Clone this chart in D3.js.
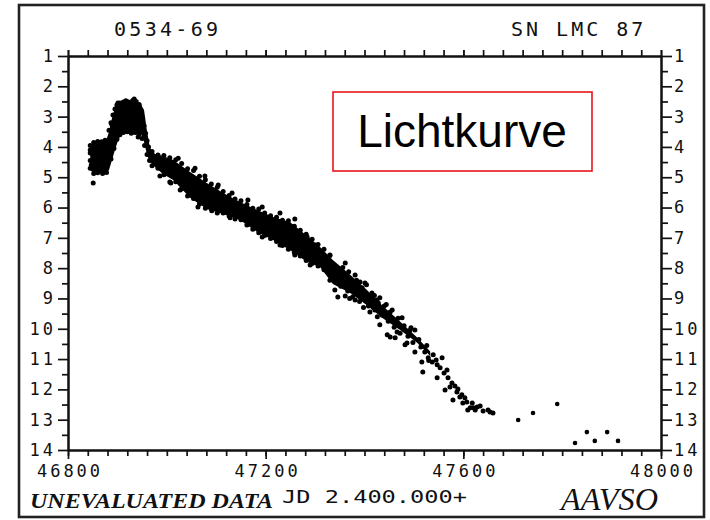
<!DOCTYPE html>
<html>
<head>
<meta charset="utf-8">
<script src="https://cdn.jsdelivr.net/npm/d3@7/dist/d3.min.js"></script>
<style>
  html, body { margin: 0; padding: 0; background: #fff; }
  svg { display: block; }
</style>
</head>
<body>
<svg id="chart" width="710" height="520"></svg>
<script>
// SN 1987A (SN LMC 87) visual light curve, AAVSO.
// Dates are JD − 2,400,000; brightness in visual magnitudes.

// Core of the dense run of estimates: brightest and faintest mag per date.
const bandJD     = [46845, 46849, 46865, 46877, 46883, 46889, 46895, 46901, 46907, 46917, 46928, 46934,
                    46942, 46948, 46954, 46960, 46966, 46976, 46992, 47013, 47047, 47081, 47114, 47148,
                    47183, 47215, 47249, 47284, 47310, 47336, 47371, 47405, 47437, 47472, 47506, 47533];
const bandBright = [4.00, 3.87, 3.84, 3.80, 3.51, 3.05, 2.72, 2.58, 2.55, 2.55, 2.52, 2.48,
                    2.55, 2.60, 2.80, 3.50, 4.05, 4.23, 4.30, 4.43, 4.83, 5.19, 5.52, 5.82,
                    6.08, 6.31, 6.48, 6.94, 7.30, 7.73, 8.22, 8.72, 9.25, 9.76, 10.28, 10.75];
const bandFaint  = [4.76, 4.83, 4.86, 4.86, 4.76, 4.43, 4.10, 3.80, 3.61, 3.54, 3.54, 3.54,
                    3.54, 3.57, 3.84, 4.27, 4.50, 4.66, 4.89, 5.09, 5.68, 6.05, 6.21, 6.41,
                    6.81, 7.07, 7.40, 7.80, 7.96, 8.52, 8.82, 9.22, 9.65, 10.04, 10.45, 10.90];

// Individual estimates [JD, mag]
const earlyObs = [[46851, 5.19], [46845, 4.10], [46847, 4.60], [46889, 3.28], [46901, 2.55],
                  [46917, 2.48], [46934, 2.42], [46942, 3.67], [47008, 5.19],
                  [46845, 3.95], [46845, 4.20], [46845, 4.45], [46845, 4.70],
                  [46852, 3.85], [46860, 3.82], [46868, 3.83], [46875, 3.78],
                  [46852, 4.88], [46860, 4.85], [46870, 4.88], [46878, 4.84],
                  [46883, 3.45], [46887, 3.20], [46891, 2.95], [46895, 2.75], [46899, 2.62],
                  [46905, 2.55], [46912, 2.52], [46920, 2.50], [46926, 2.53], [46931, 2.47],
                  [46938, 2.50], [46944, 2.60],
                  [46948, 2.80], [46951, 3.05], [46954, 3.30], [46957, 3.55], [46960, 3.80], [46963, 4.00],
                  [46887, 4.40], [46893, 4.05], [46899, 3.75], [46905, 3.60], [46912, 3.52],
                  [46920, 3.50], [46928, 3.55], [46936, 3.52], [46944, 3.58], [46950, 3.72],
                  [46955, 3.95], [46960, 4.25], [46965, 4.45]];
const declineObs = [[46982, 4.27], [47023, 4.37], [47057, 4.70], [47077, 4.96], [47104, 5.26],
                    [47132, 5.52], [47164, 5.75], [47193, 5.98], [47229, 6.18], [47259, 6.38],
                    [46986, 4.96], [47006, 5.16], [47027, 5.42], [47063, 5.98], [47091, 6.11],
                    [47128, 6.34], [47164, 6.54], [47193, 6.97], [47229, 7.24], [47259, 7.57],
                    [47290, 7.90],
                    [46970, 4.15], [46994, 4.28], [47006, 4.36], [47018, 4.42], [47030, 4.55],
                    [47042, 4.72], [47054, 4.78], [47066, 4.97], [47078, 5.08], [47090, 5.22],
                    [47102, 5.33], [47114, 5.47], [47126, 5.60], [47138, 5.72], [47150, 5.78],
                    [47162, 5.90], [47174, 6.02], [47186, 6.05], [47198, 6.18], [47210, 6.27],
                    [47222, 6.32], [47234, 6.42], [47246, 6.44], [47258, 6.62], [47270, 6.75],
                    [47282, 6.88], [47294, 7.05], [47306, 7.22], [47318, 7.38], [47330, 7.58],
                    [46970, 4.62], [46982, 4.70], [46994, 4.92], [47018, 5.15], [47030, 5.38],
                    [47042, 5.62], [47054, 5.70], [47066, 5.88], [47078, 6.02], [47090, 6.05],
                    [47102, 6.18], [47114, 6.18], [47126, 6.28], [47138, 6.38], [47150, 6.40],
                    [47162, 6.58], [47174, 6.72], [47186, 6.83], [47198, 6.92], [47210, 7.02],
                    [47222, 7.12], [47234, 7.25], [47246, 7.38], [47258, 7.48], [47270, 7.60],
                    [47282, 7.75], [47294, 7.85], [47306, 7.93], [47318, 8.05], [47330, 8.40]];
const tailObs = [[47284, 6.97], [47300, 7.24], [47324, 7.73], [47344, 7.96], [47346, 8.39],
                 [47391, 8.46], [47395, 8.65], [47405, 9.05], [47425, 9.05], [47421, 9.38],
                 [47446, 9.61], [47446, 10.20], [47452, 10.27], [47466, 10.11], [47486, 10.47],
                 [47494, 9.97], [47518, 11.43], [47539, 10.86], [47557, 10.96], [47547, 11.19],
                 [47547, 11.62], [47567, 11.36], [47563, 12.02], [47573, 11.92], [47587, 12.09],
                 [47579, 12.35], [47593, 12.25], [47599, 12.45], [47609, 12.68], [47614, 12.61],
                 [47620, 12.61], [47628, 12.58], [47650, 12.68], [47654, 12.75], [47660, 12.78],
                 [47522, 10.77], [47529, 10.96], [47537, 11.10], [47545, 11.03], [47553, 11.29],
                 [47561, 11.46], [47569, 11.62], [47577, 11.79], [47583, 11.89], [47589, 11.99],
                 [47597, 12.18], [47603, 12.28], [47607, 12.42], [47618, 12.45], [47624, 12.68],
                 [47634, 12.55], [47640, 12.71],
                 [47330, 7.57], [47361, 7.83], [47381, 8.23], [47401, 8.49], [47415, 8.82],
                 [47431, 8.98], [47456, 9.38], [47476, 9.64], [47502, 10.04],
                 [47340, 8.72], [47361, 8.92], [47381, 9.05], [47411, 9.45], [47431, 9.87],
                 [47462, 10.30], [47482, 10.53], [47502, 10.77], [47516, 11.10],
                 [47340, 8.10], [47350, 8.05], [47352, 8.60], [47358, 8.35], [47366, 8.75],
                 [47372, 8.55], [47376, 8.95], [47386, 8.70], [47390, 9.10], [47398, 8.85],
                 [47408, 9.25], [47412, 8.95], [47418, 9.30], [47428, 9.15], [47436, 9.55],
                 [47440, 9.25], [47448, 9.75], [47452, 9.45], [47460, 9.95], [47468, 9.65],
                 [47472, 10.15], [47480, 9.90], [47488, 10.25], [47492, 10.05], [47498, 10.45],
                 [47510, 10.35], [47514, 10.60], [47526, 10.55], [47530, 11.05],
                 [47346, 8.95], [47356, 7.98], [47368, 8.12], [47370, 9.00], [47384, 8.40],
                 [47398, 9.30], [47404, 8.55], [47420, 8.90], [47426, 9.60], [47444, 9.20]];
const lateObs = [[47711, 13.01], [47741, 12.78], [47790, 12.48], [47826, 13.77], [47850, 13.41],
                 [47866, 13.70], [47891, 13.41], [47913, 13.70]];

// Axis ticks
const xMajor = [46800, 47200, 47600, 48000];
const xMinor = d3.range(46800, 48001, 40);
const yMajor = [1, 2, 3, 4, 5, 6, 7, 8, 9, 10, 11, 12, 13, 14];
const yMinor = d3.range(1.5, 14, 1);

// Texts
const starDesignation = "0534-69";
const starName = "SN LMC 87";
const footerLeft = "UNEVALUATED DATA";
const footerAxis = "JD 2.400.000+";
const footerRight = "AAVSO";
const callout = "Lichtkurve";

const svg = d3.select("#chart");
const ink = "#111";
const plotFont = "'DejaVu Sans Mono', 'Liberation Mono', monospace";

const x = d3.scaleLinear().domain([46800, 48000]).range([68, 661]);
const y = d3.scaleLinear().domain([1, 14]).range([56, 450]);

// outer frame
svg.append("rect")
  .attr("x", 19).attr("y", 5).attr("width", 685).attr("height", 512)
  .attr("fill", "none").attr("stroke", "#222").attr("stroke-width", 2.6);

// data: dense core as a filled band, single estimates as dots
const band = bandJD.map((d, i) => ({ jd: d, lo: bandBright[i], hi: bandFaint[i] }));
svg.append("path")
  .datum(band)
  .attr("fill", "#000")
  .attr("d", d3.area().x(d => x(d.jd)).y0(d => y(d.lo)).y1(d => y(d.hi)));

const dots = [].concat(earlyObs, declineObs, tailObs);
svg.append("g").selectAll("circle").data(dots).join("circle")
  .attr("cx", d => x(d[0])).attr("cy", d => y(d[1])).attr("r", 2.5).attr("fill", "#000");
svg.append("g").selectAll("circle").data(lateObs).join("circle")
  .attr("cx", d => x(d[0])).attr("cy", d => y(d[1])).attr("r", 2.3).attr("fill", "#000");

// axes
function styleAxis(g) {
  g.selectAll(".domain").attr("stroke", ink).attr("stroke-width", 2);
  g.selectAll(".tick line").attr("stroke", ink).attr("stroke-width", 1.7);
  g.selectAll("text").attr("fill", ink).attr("font-family", plotFont)
    .attr("font-size", 17).attr("letter-spacing", 3.0);
}

const none = () => "";
// minor ticks on all sides
svg.append("g").attr("transform", `translate(0,${y(14)})`)
  .call(d3.axisBottom(x).tickValues(xMinor).tickSize(6).tickSizeOuter(0).tickFormat(none)).call(styleAxis);
svg.append("g").attr("transform", `translate(0,${y(1)})`)
  .call(d3.axisTop(x).tickValues(xMinor).tickSize(6).tickSizeOuter(0).tickFormat(none)).call(styleAxis);
svg.append("g").attr("transform", `translate(${x(46800)},0)`)
  .call(d3.axisLeft(y).tickValues(yMinor).tickSize(6).tickSizeOuter(0).tickFormat(none)).call(styleAxis);
svg.append("g").attr("transform", `translate(${x(48000)},0)`)
  .call(d3.axisRight(y).tickValues(yMinor).tickSize(7).tickSizeOuter(0).tickFormat(none)).call(styleAxis);

// major ticks with labels
const gx = svg.append("g").attr("transform", `translate(0,${y(14)})`)
  .call(d3.axisBottom(x).tickValues(xMajor).tickSize(9).tickSizeOuter(0).tickPadding(6).tickFormat(d3.format("d")))
  .call(styleAxis);
gx.selectAll("text").attr("dx", 1.5);
svg.append("g").attr("transform", `translate(0,${y(1)})`)
  .call(d3.axisTop(x).tickValues(xMajor).tickSize(6).tickSizeOuter(0).tickFormat(none)).call(styleAxis);
svg.append("g").attr("transform", `translate(${x(46800)},0)`)
  .call(d3.axisLeft(y).tickValues(yMajor).tickSize(10).tickSizeOuter(0).tickPadding(2).tickFormat(d3.format("d")))
  .call(styleAxis);
svg.append("g").attr("transform", `translate(${x(48000)},0)`)
  .call(d3.axisRight(y).tickValues(yMajor).tickSize(11).tickSizeOuter(0).tickPadding(2).tickFormat(d3.format("d")))
  .call(styleAxis);

// header
svg.append("text").text(starDesignation)
  .attr("x", 114).attr("y", 36)
  .attr("font-family", plotFont).attr("font-size", 20).attr("letter-spacing", 3.3).attr("fill", ink);
svg.append("text").text(starName)
  .attr("x", 511).attr("y", 36)
  .attr("font-family", plotFont).attr("font-size", 20).attr("letter-spacing", 3.0).attr("fill", ink);

// footer
svg.append("text").text(footerLeft)
  .attr("x", 30).attr("y", 508)
  .attr("font-family", "'Liberation Serif', 'DejaVu Serif', serif")
  .attr("font-style", "italic").attr("font-weight", "bold").attr("font-size", 22)
  .attr("textLength", 243).attr("lengthAdjust", "spacingAndGlyphs").attr("fill", ink);
svg.append("text").text(footerAxis)
  .attr("x", 282).attr("y", 503)
  .attr("font-family", plotFont).attr("font-size", 18)
  .attr("textLength", 185).attr("lengthAdjust", "spacingAndGlyphs").attr("fill", ink);
svg.append("text").text(footerRight)
  .attr("x", 561).attr("y", 510)
  .attr("font-family", "'Liberation Serif', 'DejaVu Serif', serif")
  .attr("font-style", "italic").attr("font-size", 31)
  .attr("textLength", 97).attr("lengthAdjust", "spacingAndGlyphs").attr("fill", ink);

// callout box
svg.append("rect")
  .attr("x", 333).attr("y", 92).attr("width", 259).attr("height", 79)
  .attr("fill", "#fff").attr("stroke", "#e8141c").attr("stroke-width", 1.6);
svg.append("text").text(callout)
  .attr("x", 462).attr("y", 147).attr("text-anchor", "middle")
  .attr("font-family", "'Liberation Sans', Arial, sans-serif").attr("font-size", 46).attr("fill", "#000");
</script>
</body>
</html>
